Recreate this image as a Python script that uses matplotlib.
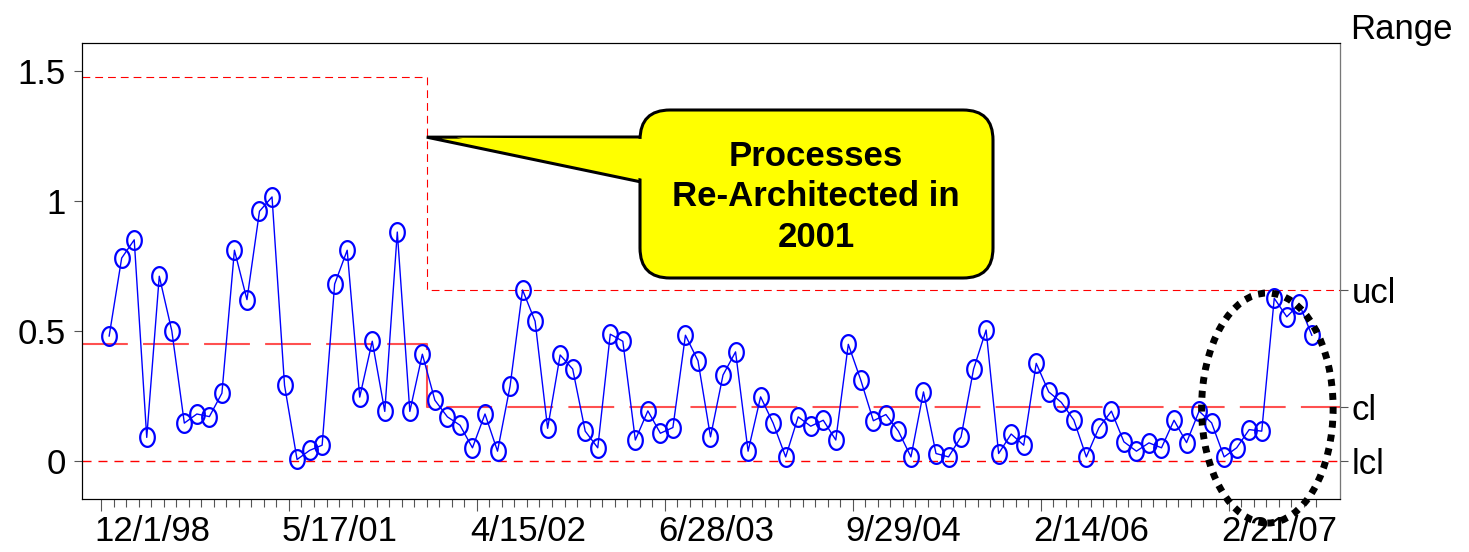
import numpy as np
import matplotlib.pyplot as plt
import matplotlib.transforms as mtransforms
from matplotlib.patches import Ellipse, FancyBboxPatch, Polygon
from matplotlib.path import Path

plt.rcParams['font.family'] = ['Liberation Sans', 'DejaVu Sans']

# range values, one per sample
rng = [0.48, 0.78, 0.85, 0.09, 0.71, 0.50, 0.145, 0.18, 0.17, 0.26,
       0.81, 0.62, 0.96, 1.015, 0.29, 0.005, 0.04, 0.06, 0.68, 0.81,
       0.245, 0.46, 0.19, 0.88, 0.19, 0.41, 0.233, 0.169, 0.137, 0.05,
       0.18, 0.037, 0.287, 0.657, 0.537, 0.125, 0.407, 0.353, 0.114, 0.05,
       0.487, 0.46, 0.08, 0.192, 0.106, 0.128, 0.483, 0.385, 0.092, 0.33,
       0.419, 0.037, 0.246, 0.145, 0.015, 0.169, 0.133, 0.156, 0.08, 0.448,
       0.31, 0.154, 0.178, 0.114, 0.015, 0.265, 0.028, 0.015, 0.092, 0.353,
       0.503, 0.028, 0.103, 0.06, 0.375, 0.265, 0.225, 0.157, 0.015, 0.127,
       0.191, 0.073, 0.037, 0.069, 0.05, 0.156, 0.07, 0.191, 0.146, 0.015,
       0.05, 0.12, 0.114, 0.625, 0.554, 0.603, 0.483]
n = len(rng)
x = np.arange(n) + 0.65      # samples sit just after their tick

tick_pos = [0, 15, 30, 45, 60, 75, 90]
tick_labels = ['12/1/98', '5/17/01', '4/15/02', '6/28/03', '9/29/04', '2/14/06', '2/21/07']

shift_at = 26          # process change
ucl = [1.475, 0.657]
cl = [0.448, 0.206]
lcl = 0.0

xmin, xmax = -1.52, 98.9
ymin, ymax = -0.147, 1.607

fig = plt.figure(figsize=(14.69, 5.52), dpi=100)
ax = fig.add_axes([0.0558, 0.096, 0.9122 - 0.0558, 0.922 - 0.096])
ax.set_xlim(xmin, xmax)
ax.set_ylim(ymin, ymax)

red = '#ff0000'
# control limits
ax.plot([xmin, shift_at, shift_at, xmax], [ucl[0], ucl[0], ucl[1], ucl[1]],
        color=red, lw=0.8, ls=(0, (7, 4.5)), zorder=2)
ax.plot([xmin, shift_at, shift_at, xmax], [cl[0], cl[0], cl[1], cl[1]],
        color='#ff5050', lw=1.5, ls=(0, (22, 7.3)), zorder=2)
ax.plot([xmin, xmax], [lcl, lcl], color=red, lw=1.0, ls=(0, (6.5, 5)), zorder=2)

# ellipse-shaped "O" marker
t = np.linspace(0, 2 * np.pi, 60)
omark = Path(np.column_stack([0.78 * np.cos(t), np.sin(t)]), closed=True)
ax.plot(x, rng, color='#0000ff', lw=1.0, marker=omark, ms=13.5,
        mfc='none', mec='#0000ff', mew=1.6, zorder=4)

ax.set_xticks(tick_pos)
ax.set_xticklabels(tick_labels, ha='left')
ax.set_xticks(np.arange(n + 1), minor=True)
ax.set_yticks([0, 0.5, 1, 1.5])
ax.set_yticklabels(['0', '0.5', '1', '1.5'])
ax.tick_params(axis='x', which='major', length=8.5, width=0.8, color='#555555',
               labelsize=25, pad=3)
ax.tick_params(axis='x', which='minor', length=5.5, width=0.8, color='#555555')
ax.tick_params(axis='y', length=5.5, width=0.8, color='#555555', labelsize=25, pad=6)
shift = mtransforms.ScaledTranslation(-0.07, 0, fig.dpi_scale_trans)
for lab in ax.get_xticklabels():
    lab.set_transform(lab.get_transform() + shift)
for s in ax.spines.values():
    s.set_linewidth(0.8)

ax2 = ax.twinx()
ax2.set_ylim(ymin, ymax)
ax2.set_yticks([ucl[1], cl[1], lcl])
ax2.set_yticklabels(['ucl', 'cl', 'lcl'])
ax2.tick_params(axis='y', length=5.5, width=0.8, color='#555555', labelsize=25, pad=3)
ax2.spines['right'].set_color('#777777')
ax2.text(1.008, 0.993, 'Range', transform=ax.transAxes, fontsize=25,
         ha='left', va='bottom')

# dotted ring round the last points
ax.add_patch(Ellipse((93.1, 0.203), 10.5, 0.885, fill=False, ec='black',
                     lw=5, ls=(0, (1, 1)), clip_on=False, zorder=6))

# callout, sized in pixels
H = 552
pix = mtransforms.Affine2D().scale(1, -1).translate(0, H)
tip = ax.transData.transform((shift_at, 1.245))
tip_px = (tip[0], H - tip[1])
bx0, bx1, by0, by1 = 640, 993, 110, 278
tail = [tip_px, (bx0 + 6, 137), (bx0 + 6, 183)]
fig.patches.append(Polygon(tail, closed=True, fc='#ffff00', ec='black', lw=2.2,
                           transform=pix, zorder=7))
fig.patches.append(FancyBboxPatch((bx0, by0), bx1 - bx0, by1 - by0,
                                  boxstyle='round,pad=0,rounding_size=30',
                                  fc='#ffff00', ec='black', lw=2.2,
                                  transform=pix, zorder=8))
cover = [(tip_px[0] + 30, tip_px[1] + 0.5), (bx0 + 12, 139), (bx0 + 12, 181)]
fig.patches.append(Polygon(cover, closed=True, fc='#ffff00', ec='none',
                           transform=pix, zorder=9))
fig.text(816, 197, 'Processes\nRe-Architected in\n2001', transform=pix,
         ha='center', va='center', fontsize=25, fontweight='bold',
         linespacing=1.28, zorder=10)

fig.savefig('out.png', dpi=100)
